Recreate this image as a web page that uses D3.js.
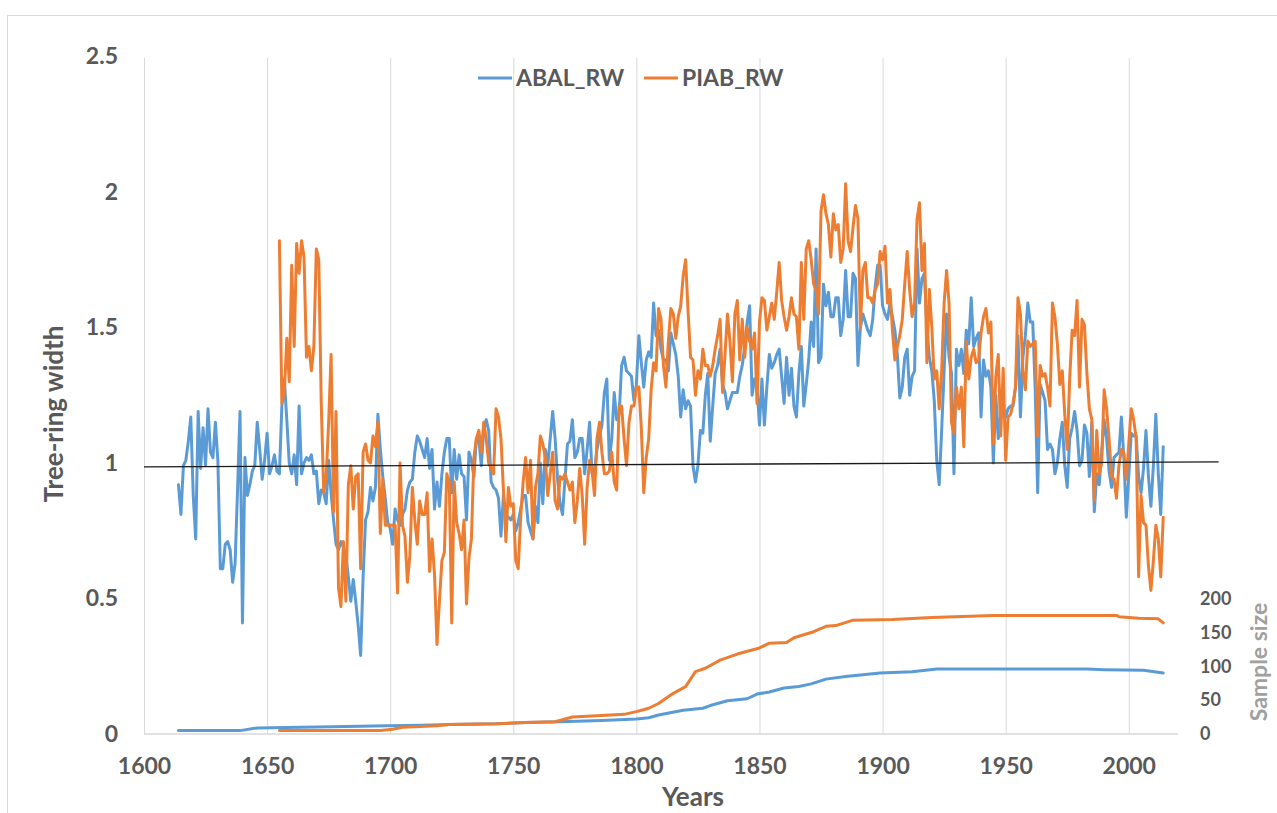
<!DOCTYPE html>
<html><head><meta charset="utf-8">
<script src="https://cdn.jsdelivr.net/npm/d3@7"></script>
<style>
body{margin:0;background:#fff}
svg text{font-family:Lato,"Liberation Sans",sans-serif;font-weight:700;fill:#595959}
</style>
</head><body>
<svg id="chart" width="1277" height="813"></svg>
<script>
// ---- data ----
const seriesNames = ["ABAL_RW", "PIAB_RW"];
const abalStart = 1614;
const abalRW = [
0.92,0.81,0.99,1.01,1.08,1.17,0.88,0.72,1.19,0.98,
1.13,0.99,1.20,1.04,1.02,1.15,1.01,0.61,0.61,0.70,
0.71,0.68,0.56,0.63,0.90,1.19,0.41,1.02,0.88,0.92,
0.97,0.99,1.15,1.05,0.94,1.01,1.11,0.96,0.99,1.03,
0.97,0.96,1.21,1.31,1.16,1.00,0.96,1.03,0.92,1.21,
0.96,1.00,1.02,1.01,1.03,0.96,0.97,0.85,0.90,0.89,
0.85,1.01,0.89,0.79,0.70,0.68,0.71,0.69,0.66,0.58,
0.49,0.57,0.49,0.40,0.29,0.58,0.79,0.82,0.91,0.86,
0.91,1.18,1.05,0.95,0.87,0.78,0.76,0.70,0.83,0.79,
0.77,0.81,0.83,0.90,0.93,0.94,1.04,1.10,1.08,1.05,
1.02,1.09,0.98,1.05,0.83,0.93,0.84,0.96,1.04,1.09,
1.09,0.89,1.05,0.94,1.03,0.96,0.95,0.79,1.04,1.01,
0.95,1.09,1.09,0.99,1.12,1.16,1.12,0.93,0.91,0.90,
0.87,0.73,0.88,0.81,0.80,0.79,0.81,0.75,0.78,0.83,
0.88,0.88,0.78,0.75,0.72,0.84,0.78,1.00,0.85,1.05,
0.99,1.09,1.19,1.09,0.94,0.85,0.81,0.94,1.07,1.08,
1.16,1.02,1.04,1.09,1.09,0.96,1.05,1.15,0.96,0.97,
1.05,1.10,1.14,1.26,1.31,1.01,1.09,1.26,1.16,1.18,
1.36,1.39,1.34,1.33,1.32,1.23,1.29,1.47,1.37,1.28,
1.38,1.41,1.39,1.59,1.47,1.49,1.42,1.38,1.38,1.34,
1.48,1.44,1.40,1.32,1.17,1.27,1.20,1.23,1.21,0.99,
0.93,0.99,1.12,1.11,1.25,1.33,1.08,1.21,1.33,1.36,
1.42,1.29,1.26,1.20,1.23,1.26,1.26,1.26,1.32,1.36,
1.43,1.52,1.58,1.25,1.31,1.28,1.14,1.31,1.14,1.28,
1.40,1.35,1.37,1.40,1.42,1.32,1.22,1.39,1.25,1.35,
1.21,1.17,1.33,1.43,1.21,1.29,1.38,1.52,1.43,1.79,
1.37,1.39,1.66,1.58,1.63,1.54,1.54,1.61,1.61,1.47,
1.53,1.71,1.54,1.54,1.70,1.68,1.36,1.50,1.55,1.52,
1.49,1.47,1.53,1.65,1.73,1.73,1.58,1.55,1.53,1.59,
1.54,1.49,1.40,1.24,1.28,1.39,1.42,1.25,1.32,1.34,
1.79,1.59,1.68,1.70,1.50,1.39,1.34,1.23,1.01,0.92,
1.12,1.34,1.55,1.39,1.33,0.96,1.42,1.36,1.42,1.33,
1.49,1.44,1.61,1.43,1.46,1.48,1.17,1.38,1.32,1.34,
1.28,1.00,1.25,1.09,1.18,1.20,1.17,1.20,1.21,1.21,
1.28,1.47,1.17,1.39,1.47,1.59,1.52,1.52,1.27,0.89,
1.29,1.26,1.23,1.05,1.07,1.05,0.96,1.00,1.09,1.15,
0.99,0.91,1.09,1.13,1.19,1.12,0.99,1.01,1.14,1.11,
0.95,1.15,0.82,0.96,0.92,1.04,1.16,1.09,0.97,0.91,
1.02,1.03,1.04,1.17,1.02,0.80,0.95,1.11,1.10,1.10,
0.95,0.89,0.98,1.12,0.95,0.84,0.99,1.18,0.96,0.81,
1.06];
const piabStart = 1655;
const piabRW = [
1.82,1.22,1.26,1.46,1.30,1.73,1.43,1.81,1.70,1.82,
1.76,1.39,1.43,1.34,1.43,1.79,1.75,1.22,0.89,0.95,
1.15,1.40,0.82,1.19,0.54,0.47,0.71,0.49,0.92,0.99,
0.83,0.95,0.96,0.61,1.04,1.07,1.01,1.00,1.10,1.06,
1.15,0.74,0.94,0.77,0.77,0.77,0.77,0.77,0.52,1.00,
0.77,0.73,0.56,0.66,0.91,0.79,0.70,0.86,0.81,0.81,
0.89,0.60,0.72,0.59,0.33,0.49,0.64,0.67,0.96,0.93,
0.41,0.93,0.78,0.74,0.68,0.79,0.48,0.65,0.72,1.02,
1.09,1.12,1.04,1.15,1.09,1.00,0.98,0.96,1.20,1.17,
1.09,0.90,0.71,0.91,0.84,0.85,0.64,0.61,0.80,0.93,
1.02,0.89,1.01,0.72,0.91,0.96,1.10,1.07,1.02,0.88,
0.96,1.04,0.86,0.83,0.95,0.94,0.96,0.93,0.90,0.93,
0.78,0.86,0.98,0.88,0.70,0.91,1.01,0.97,0.88,1.09,
1.15,1.04,0.96,0.96,0.97,1.04,0.93,0.90,1.21,1.21,
1.09,0.99,1.15,1.21,1.21,1.28,1.28,1.13,0.89,1.02,
1.09,1.27,1.37,1.34,1.57,1.53,1.36,1.28,1.45,1.57,
1.55,1.46,1.54,1.58,1.69,1.75,1.56,1.39,1.38,1.25,
1.34,1.31,1.42,1.36,1.36,1.32,1.36,1.42,1.47,1.53,
1.26,1.40,1.55,1.45,1.30,1.55,1.60,1.38,1.53,1.39,
1.50,1.45,1.42,1.48,1.22,1.52,1.61,1.60,1.49,1.54,
1.59,1.53,1.63,1.74,1.60,1.54,1.49,1.54,1.61,1.55,
1.54,1.42,1.74,1.53,1.79,1.82,1.75,1.66,1.64,1.55,
1.93,1.99,1.92,1.88,1.76,1.92,1.86,1.88,1.74,1.79,
2.03,1.82,1.78,1.87,1.95,1.90,1.50,1.71,1.74,1.61,
1.61,1.59,1.64,1.66,1.78,1.75,1.80,1.59,1.64,1.49,
1.38,1.43,1.47,1.53,1.66,1.78,1.64,1.54,1.59,1.90,
1.96,1.71,1.81,1.37,1.64,1.50,1.31,1.34,1.20,1.34,
1.59,1.71,1.59,1.15,1.11,1.28,1.20,1.28,1.06,1.45,
1.31,1.39,1.42,1.37,1.38,1.48,1.54,1.57,1.48,1.52,
1.07,1.32,1.40,1.10,1.35,1.01,1.17,1.18,1.22,1.28,
1.61,1.55,1.34,1.27,1.45,1.43,1.44,1.45,1.10,1.36,
1.32,1.33,1.28,1.21,1.59,1.54,1.44,1.29,1.34,1.18,
1.05,1.31,1.49,1.47,1.60,1.28,1.53,1.51,1.33,1.20,
1.16,0.86,1.12,0.96,1.00,1.27,1.20,1.09,0.95,0.94,
0.87,0.99,1.05,1.04,0.94,1.07,1.20,1.16,1.09,0.58,
0.88,0.78,0.77,0.62,0.53,0.64,0.77,0.72,0.58,0.80];

// sample size (secondary axis)
const abalSampleYears = [1614,1639,1646,1682,1699,1713,1724,1743,1755,1769,1786,1800,1805,1809,1819,1827,1830,1837,1845,1849,1854,1860,1866,1871,1877,1885,1899,1912,1922,1983,1990,2006,2014];
const abalSample      = [5,5,9,11,12,13,14,15,17,18,20,22,24,28,35,38,42,49,52,59,62,68,70,74,81,85,90,92,96,96,95,94,90];
const piabSampleYears = [1655,1696,1701,1705,1719,1724,1744,1755,1767,1774,1784,1795,1800,1805,1809,1815,1820,1824,1828,1834,1841,1850,1854,1861,1864,1872,1877,1881,1888,1904,1920,1945,1995,1996,2004,2012,2014];
const piabSample      = [5,5,7,10,12,14,15,17,18,25,27,29,33,38,45,60,70,92,97,109,118,127,134,135,142,151,159,160,168,169,172,175,175,173,171,170,164];

const xTicks = [1600,1650,1700,1750,1800,1850,1900,1950,2000];
const yTicks = [0,0.5,1,1.5,2,2.5];
const sampleTicks = [0,50,100,150,200];
const refLineYears = [1600, 2036.5];
const refLineValues = [0.986, 1.004];

const colors = {ABAL_RW:"#5b9bd5", PIAB_RW:"#ed7d31"};

// ---- scales ----
const svg = d3.select("#chart");
const x = d3.scaleLinear().domain([1600,2020]).range([144,1178]);
const y = d3.scaleLinear().domain([0,2.5]).range([734,56.5]);
const y2 = d3.scaleLinear().domain([0,1000]).range([734,56.5]);

// chart border
svg.append("rect").attr("x",7.5).attr("y",15.5).attr("width",1275).attr("height",805)
  .attr("fill","none").attr("stroke","#d9d9d9").attr("stroke-width",1);

// vertical gridlines
const grid = svg.append("g").attr("transform","translate(0,734)")
  .call(d3.axisBottom(x).tickValues(xTicks).tickSize(-(734-58)).tickFormat(""));
grid.select(".domain").remove();
grid.selectAll("line").attr("stroke","#d9d9d9").attr("stroke-width",1);

// x axis line
svg.append("line").attr("x1",x(1600)).attr("x2",x(2020)).attr("y1",734).attr("y2",734)
  .attr("stroke","#d9d9d9").attr("stroke-width",1.3);

// x labels
const xa = svg.append("g").attr("transform","translate(0,734)")
  .call(d3.axisBottom(x).tickValues(xTicks).tickSize(0).tickPadding(24).tickFormat(d=>String(d)));
xa.select(".domain").remove();
xa.selectAll("text").style("font-size","23px").attr("fill","#595959");

// y labels
const ya = svg.append("g").attr("transform","translate(144,0)")
  .call(d3.axisLeft(y).tickValues(yTicks).tickSize(0).tickPadding(26).tickFormat(d=>String(d)));
ya.select(".domain").remove();
ya.selectAll("text").style("font-size","23px").attr("fill","#595959");

// secondary labels
const y2a = svg.append("g").attr("transform","translate(1178,0)")
  .call(d3.axisRight(y2).tickValues(sampleTicks).tickSize(0).tickPadding(22).tickFormat(d=>String(d)));
y2a.select(".domain").remove();
y2a.selectAll("text").style("font-size","18px").attr("fill","#595959");

// axis titles
svg.append("text").attr("transform","translate(63,414) rotate(-90)")
  .attr("text-anchor","middle").style("font-size","26px").text("Tree-ring width");
svg.append("text").attr("x",693).attr("y",806).attr("text-anchor","middle")
  .style("font-size","26px").text("Years");
svg.append("text").attr("transform","translate(1267,662) rotate(-90)")
  .attr("text-anchor","middle").style("font-size","23px").style("fill","#a0a0a0").text("Sample size");

// sample size lines
const sLine = d3.line().x(d=>x(d[0])).y(d=>y2(d[1]));
svg.append("path").datum(abalSampleYears.map((yr,i)=>[yr,abalSample[i]]))
  .attr("d",sLine).attr("fill","none").attr("stroke",colors.ABAL_RW).attr("stroke-width",3).attr("stroke-linejoin","round").attr("stroke-linecap","round");
svg.append("path").datum(piabSampleYears.map((yr,i)=>[yr,piabSample[i]]))
  .attr("d",sLine).attr("fill","none").attr("stroke",colors.PIAB_RW).attr("stroke-width",3).attr("stroke-linejoin","round").attr("stroke-linecap","round");

// ring-width lines
const line = d3.line().x(d=>x(d[0])).y(d=>y(d[1]));
svg.append("path").datum(abalRW.map((v,i)=>[abalStart+i,v]))
  .attr("d",line).attr("fill","none").attr("stroke",colors.ABAL_RW).attr("stroke-width",3).attr("stroke-linejoin","round").attr("stroke-linecap","round");
svg.append("path").datum(piabRW.map((v,i)=>[piabStart+i,v]))
  .attr("d",line).attr("fill","none").attr("stroke",colors.PIAB_RW).attr("stroke-width",3).attr("stroke-linejoin","round").attr("stroke-linecap","round");

// reference line
svg.append("line").attr("x1",x(refLineYears[0])).attr("y1",y(refLineValues[0]))
  .attr("x2",x(refLineYears[1])).attr("y2",y(refLineValues[1]))
  .attr("stroke","#1a1a1a").attr("stroke-width",1.3);

// legend
const legendItems = [{name:seriesNames[0], x:478},{name:seriesNames[1], x:644}];
legendItems.forEach(it=>{
  svg.append("line").attr("x1",it.x).attr("x2",it.x+34).attr("y1",78).attr("y2",78)
    .attr("stroke",colors[it.name]).attr("stroke-width",3);
  svg.append("text").attr("x",it.x+38).attr("y",86).style("font-size","23px").text(it.name);
});
</script>
</body></html>
